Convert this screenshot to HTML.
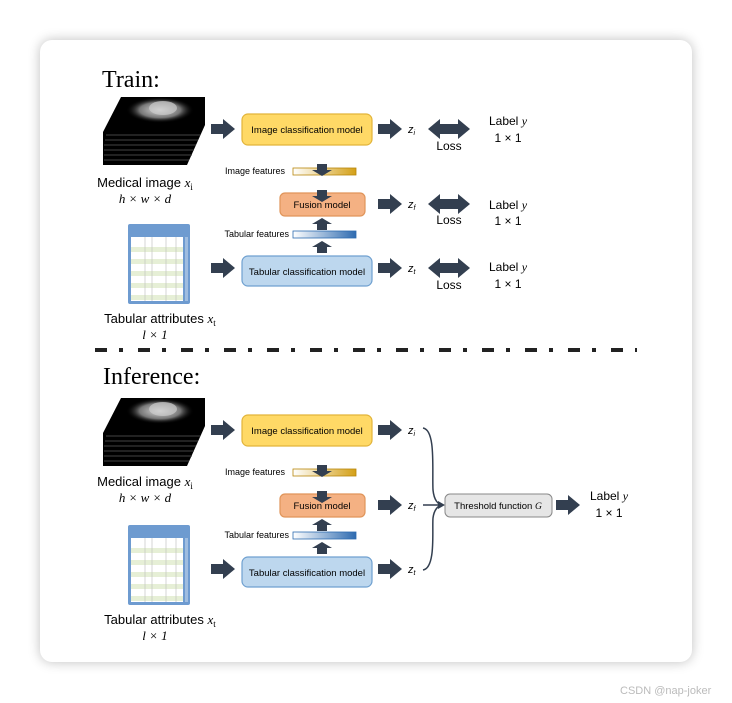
<!DOCTYPE html>
<html><head><meta charset="utf-8"><style>
html,body{margin:0;padding:0;background:#fff;}
svg{display:block;}
text{font-family:"Liberation Sans",sans-serif;}
.s{font-family:"Liberation Serif",serif;}
</style></head><body>
<svg width="732" height="703" viewBox="0 0 732 703" xmlns="http://www.w3.org/2000/svg">
<defs>
<filter id="sh" x="-10%" y="-10%" width="120%" height="120%"><feGaussianBlur stdDeviation="6"/></filter>
<linearGradient id="gy" x1="0" x2="1"><stop offset="0" stop-color="#fff"/><stop offset="1" stop-color="#d4a017"/></linearGradient>
<linearGradient id="gb" x1="0" x2="1"><stop offset="0" stop-color="#fff"/><stop offset="1" stop-color="#2e6bb0"/></linearGradient>
<radialGradient id="heart" cx="0.5" cy="0.5" r="0.5"><stop offset="0" stop-color="#ddd"/><stop offset="0.6" stop-color="#777"/><stop offset="1" stop-color="#000" stop-opacity="0"/></radialGradient>
<g id="R"><polygon points="0,-5 12,-5 12,-10 24,0 12,10 12,5 0,5" fill="#333f50"/></g>
<g id="D"><polygon points="-5,0 5,0 5,-6 10,-6 0,-12 -10,-6 -5,-6" fill="#333f50" transform="rotate(180) translate(0,-12)"/></g>
<g id="U"><polygon points="-5,12 5,12 5,6 10,6 0,0 -10,6 -5,6" fill="#333f50"/></g>
<g id="DA"><polygon points="0,0 12,-10 12,-5 30,-5 30,-10 42,0 30,10 30,5 12,5 12,10" fill="#333f50"/></g>
<g id="MRI">
<polygon points="121,97 205,97 205,125 187,165 103,165 103,132" fill="#000"/>
<g stroke="#444" stroke-width="1">
<line x1="106" y1="135" x2="200" y2="135"/><line x1="105" y1="140" x2="198" y2="140"/><line x1="104" y1="145" x2="196" y2="145"/><line x1="104" y1="150" x2="194" y2="150"/><line x1="104" y1="155" x2="192" y2="155"/><line x1="104" y1="160" x2="189" y2="160"/>
</g>
<ellipse cx="160" cy="110" rx="34" ry="13" fill="url(#heart)"/>
<ellipse cx="163" cy="108" rx="14" ry="7" fill="#ccc" opacity="0.7"/>
</g>
<g id="TAB">
<rect x="128" y="224" width="62" height="80" fill="#6e9bd0" rx="2"/>
<rect x="131" y="237" width="52" height="64" fill="#fff"/>
<g fill="#e6efd6"><rect x="131" y="247" width="52" height="5"/><rect x="131" y="259" width="52" height="5"/><rect x="131" y="271" width="52" height="5"/><rect x="131" y="283" width="52" height="5"/><rect x="131" y="295" width="52" height="5"/></g>
<g stroke="#bbb" stroke-width="0.6"><line x1="145" y1="237" x2="145" y2="301"/><line x1="152" y1="237" x2="152" y2="301"/><line x1="166" y1="237" x2="166" y2="301"/><line x1="176" y1="237" x2="176" y2="301"/></g>
<rect x="185" y="237" width="3" height="64" fill="#9fbde0"/>
</g>
<g id="LEFT">
<use href="#MRI"/><use href="#TAB"/>
<use href="#R" x="211" y="129"/>
<use href="#R" x="211" y="268"/>
<rect x="242" y="114" width="130" height="31" rx="6" fill="#ffd966" stroke="#e2b43a" stroke-width="1.2"/>
<rect x="280" y="193" width="85" height="23" rx="5" fill="#f4b183" stroke="#e0955a" stroke-width="1.2"/>
<rect x="242" y="256" width="130" height="30" rx="6" fill="#bdd7ee" stroke="#6fa0d0" stroke-width="1.2"/>
<rect x="293" y="168" width="63" height="7" fill="url(#gy)" stroke="#b8860b" stroke-width="0.8"/>
<rect x="293" y="231" width="63" height="7" fill="url(#gb)" stroke="#2e6bb0" stroke-width="0.8"/>
<use href="#D" x="322" y="152"/>
<use href="#D" x="322" y="178"/>
<use href="#U" x="322" y="218"/>
<use href="#U" x="322" y="241"/>
<use href="#R" x="378" y="129"/>
<use href="#R" x="378" y="204"/>
<use href="#R" x="378" y="268"/>
</g>
</defs>
<rect x="40" y="40" width="652" height="622" rx="12" fill="#000" opacity="0.25" filter="url(#sh)"/>
<rect x="40" y="40" width="652" height="622" rx="12" fill="#fff"/>

<text x="102" y="87" class="s" font-size="24">Train:</text>
<use href="#LEFT"/>
<g font-size="9.5" text-anchor="middle">
<text x="307" y="133">Image classification model</text>
<text x="322" y="208">Fusion model</text>
<text x="307" y="275">Tabular classification model</text>
</g>
<g font-size="9" text-anchor="end"><text x="285" y="174">Image features</text><text x="289" y="237">Tabular features</text></g>
<g font-size="13" text-anchor="middle">
<text x="145" y="187">Medical image <tspan class="s" font-style="italic">x</tspan><tspan class="s" font-size="9" dy="3">i</tspan></text>
<text x="145" y="203" class="s" font-style="italic">h × w × d</text>
<text x="160" y="323">Tabular attributes <tspan class="s" font-style="italic">x</tspan><tspan class="s" font-size="9" dy="3">t</tspan></text>
<text x="155" y="339" class="s" font-style="italic">l × 1</text>
</g>
<g class="s" font-size="11" font-style="italic">
<text x="408" y="133">z<tspan font-size="7" dy="2">i</tspan></text>
<text x="408" y="208">z<tspan font-size="7" dy="2">f</tspan></text>
<text x="408" y="272">z<tspan font-size="7" dy="2">t</tspan></text>
</g>
<use href="#DA" x="428" y="129"/><use href="#DA" x="428" y="204"/><use href="#DA" x="428" y="268"/>
<g font-size="12" text-anchor="middle">
<text x="449" y="150">Loss</text><text x="449" y="224">Loss</text><text x="449" y="289">Loss</text>
<text x="508" y="125">Label <tspan class="s" font-style="italic">y</tspan></text><text x="508" y="142">1 × 1</text>
<text x="508" y="209">Label <tspan class="s" font-style="italic">y</tspan></text><text x="508" y="225">1 × 1</text>
<text x="508" y="271">Label <tspan class="s" font-style="italic">y</tspan></text><text x="508" y="288">1 × 1</text>
</g>

<line x1="95" y1="350" x2="637" y2="350" stroke="#222" stroke-width="4" stroke-dasharray="12 12 4 15"/>

<text x="103" y="384" class="s" font-size="24">Inference:</text>
<g transform="translate(0,301)">
<use href="#LEFT"/>
<g font-size="9.5" text-anchor="middle">
<text x="307" y="133">Image classification model</text>
<text x="322" y="208">Fusion model</text>
<text x="307" y="275">Tabular classification model</text>
</g>
<g font-size="9" text-anchor="end"><text x="285" y="174">Image features</text><text x="289" y="237">Tabular features</text></g>
<g font-size="13" text-anchor="middle">
<text x="145" y="185">Medical image <tspan class="s" font-style="italic">x</tspan><tspan class="s" font-size="9" dy="3">i</tspan></text>
<text x="145" y="201" class="s" font-style="italic">h × w × d</text>
<text x="160" y="323">Tabular attributes <tspan class="s" font-style="italic">x</tspan><tspan class="s" font-size="9" dy="3">t</tspan></text>
<text x="155" y="339" class="s" font-style="italic">l × 1</text>
</g>
<g class="s" font-size="11" font-style="italic">
<text x="408" y="133">z<tspan font-size="7" dy="2">i</tspan></text>
<text x="408" y="208">z<tspan font-size="7" dy="2">f</tspan></text>
<text x="408" y="272">z<tspan font-size="7" dy="2">t</tspan></text>
</g>
</g>
<g fill="none" stroke="#333f50" stroke-width="1.5">
<path d="M423,428 C436,430 432,470 433,490 C434,500 438,505 443,505"/>
<path d="M423,570 C436,568 432,530 433,518 C434,510 438,505 443,505"/>
<path d="M423,505 L441,505"/>
</g>
<polygon points="445,505 438,501 438,509" fill="#333f50"/>
<rect x="445" y="494" width="107" height="23" rx="5" fill="#e6e6e6" stroke="#888" stroke-width="1"/>
<text x="498" y="509" font-size="9.5" text-anchor="middle">Threshold function <tspan class="s" font-style="italic">G</tspan></text>
<use href="#R" x="556" y="505"/>
<g font-size="12" text-anchor="middle">
<text x="609" y="500">Label <tspan class="s" font-style="italic">y</tspan></text><text x="609" y="517">1 × 1</text>
</g>
<text x="620" y="694" font-size="11" fill="#bbb">CSDN @nap-joker</text>
</svg>
</body></html>
